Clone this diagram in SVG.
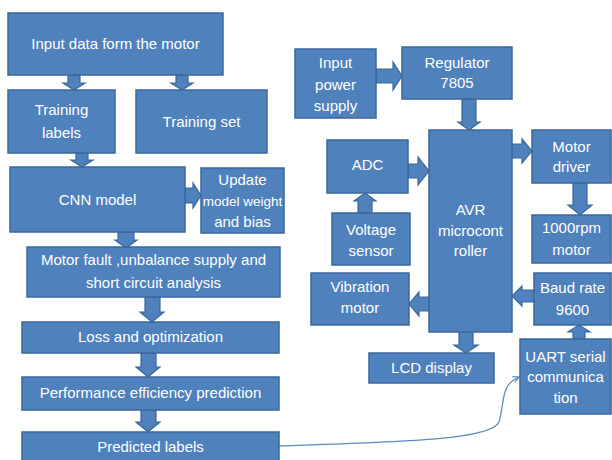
<svg xmlns="http://www.w3.org/2000/svg" width="612" height="460" viewBox="0 0 612 460">
<defs>
<style>
.b{fill:#4F81BD;stroke:#3A679C;stroke-width:1.5}
.a{fill:#4F81BD;stroke:#3A679C;stroke-width:1.2}
text{font-family:"Liberation Sans",Arial,sans-serif;font-size:15px;fill:#FFFFFF;text-anchor:middle}
.s{font-size:13.5px}
.c{fill:none;stroke:#5B8BC0;stroke-width:1.3}
</style>
<marker id="ah" markerWidth="8" markerHeight="8" refX="7" refY="4" orient="auto" markerUnits="userSpaceOnUse">
<path d="M1,1 L7,4 L1,7" fill="none" stroke="#5B8BC0" stroke-width="1.2"/>
</marker>
</defs>
<rect width="612" height="460" fill="#FFFFFF"/>
<g id="connectors">
<polygon class="a" points="68,75 80,75 80,83 85,83 74,90 63,83 68,83"/>
<polygon class="a" points="176,75 188,75 188,83 193,83 182,90 171,83 176,83"/>
<polygon class="a" points="76,153 88,153 88,160 93,160 82,167 71,160 76,160"/>
<polygon class="a" points="185,188 193,188 193,183 201,195.5 193,208 193,203 185,203"/>
<polygon class="a" points="118,232 134,232 134,240 137,240 126,248 115,240 118,240"/>
<polygon class="a" points="145,297 160,297 160,312 164,312 152,322 140,312 145,312"/>
<polygon class="a" points="141,353 156,353 156,367 160,367 148,377 136,367 141,367"/>
<polygon class="a" points="141,410 156,410 156,422 160,422 148,432 136,422 141,422"/>
<polygon class="a" points="376,69 393,69 393,62 402,76 393,90 393,83 376,83"/>
<polygon class="a" points="462,99 476,99 476,122 480,122 469,130 458,122 462,122"/>
<polygon class="a" points="512,144 522,144 522,139 532,151 522,163 522,158 512,158"/>
<polygon class="a" points="408,164 418,164 418,157 429,171 418,185 418,178 408,178"/>
<polygon class="a" points="358,213 372,213 372,201 376,201 365,193 354,201 358,201"/>
<polygon class="a" points="573,183 587,183 587,205 592,205 580,215 568,205 573,205"/>
<polygon class="a" points="429,297 419,297 419,292 409,304 419,316 419,311 429,311"/>
<polygon class="a" points="534,290 522,290 522,286 512,296 522,306 522,302 534,302"/>
<polygon class="a" points="573,339 585,339 585,332 590,332 579,325 568,332 573,332"/>
<polygon class="a" points="459,332 473,332 473,345 478,345 466,353 454,345 459,345"/>
<path class="c" marker-end="url(#ah)" d="M279,446 C400,442 492,440 499,422 C505,402 500,385 519,377"/>
</g>
<g id="n1"><rect class="b" x="8" y="13" width="215" height="62"/><text x="115.5" y="49">Input data form the motor</text></g>
<g id="n2"><rect class="b" x="8" y="90" width="107" height="63"/><text x="61.5" y="115">Training</text><text x="61.5" y="138">labels</text></g>
<g id="n3"><rect class="b" x="136" y="90" width="131" height="63"/><text x="201.5" y="127">Training set</text></g>
<g id="n4"><rect class="b" x="10" y="167" width="175" height="65"/><text x="97.5" y="205">CNN model</text></g>
<g id="n5"><rect class="b" x="201" y="168" width="83" height="65"/><text x="242.5" y="185">Update</text><text class="s" x="242.5" y="206">model weight</text><text x="242.5" y="227">and bias</text></g>
<g id="n6"><rect class="b" x="27" y="247" width="253" height="50"/><text x="153.5" y="265">Motor fault ,unbalance supply and</text><text x="153.5" y="288">short circuit analysis</text></g>
<g id="n7"><rect class="b" x="22" y="322" width="257" height="31"/><text x="150.5" y="342">Loss and optimization</text></g>
<g id="n8"><rect class="b" x="22" y="377" width="257" height="33"/><text x="150.5" y="398">Performance efficiency prediction</text></g>
<g id="n9"><rect class="b" x="22" y="432" width="257" height="40"/><text x="150.5" y="452">Predicted labels</text></g>
<g id="n10"><rect class="b" x="295" y="49" width="81" height="69"/><text x="335.5" y="68">Input</text><text x="335.5" y="90">power</text><text x="335.5" y="111">supply</text></g>
<g id="n11"><rect class="b" x="402" y="47" width="110" height="52"/><text x="457" y="68">Regulator</text><text x="457" y="88">7805</text></g>
<g id="n12"><rect class="b" x="429" y="130" width="83" height="202"/><text x="470.5" y="215">AVR</text><text x="470.5" y="236">microcont</text><text x="470.5" y="256">roller</text></g>
<g id="n13"><rect class="b" x="532" y="130" width="79" height="53"/><text x="571.5" y="152">Motor</text><text x="571.5" y="172">driver</text></g>
<g id="n14"><rect class="b" x="327" y="140" width="81" height="53"/><text x="367.5" y="170">ADC</text></g>
<g id="n15"><rect class="b" x="332" y="213" width="78" height="52"/><text x="371" y="235">Voltage</text><text x="371" y="256">sensor</text></g>
<g id="n16"><rect class="b" x="532" y="215" width="79" height="48"/><text x="571.5" y="233">1000rpm</text><text x="571.5" y="255">motor</text></g>
<g id="n17"><rect class="b" x="311" y="273" width="98" height="52"/><text x="360" y="292">Vibration</text><text x="360" y="313">motor</text></g>
<g id="n18"><rect class="b" x="534" y="273" width="77" height="52"/><text x="572.5" y="293">Baud rate</text><text x="572.5" y="315">9600</text></g>
<g id="n19"><rect class="b" x="520" y="339" width="91" height="75"/><text x="565.5" y="362">UART serial</text><text x="565.5" y="382">communica</text><text x="565.5" y="403">tion</text></g>
<g id="n20"><rect class="b" x="369" y="353" width="125" height="30"/><text x="431.5" y="373">LCD display</text></g>
</svg>
